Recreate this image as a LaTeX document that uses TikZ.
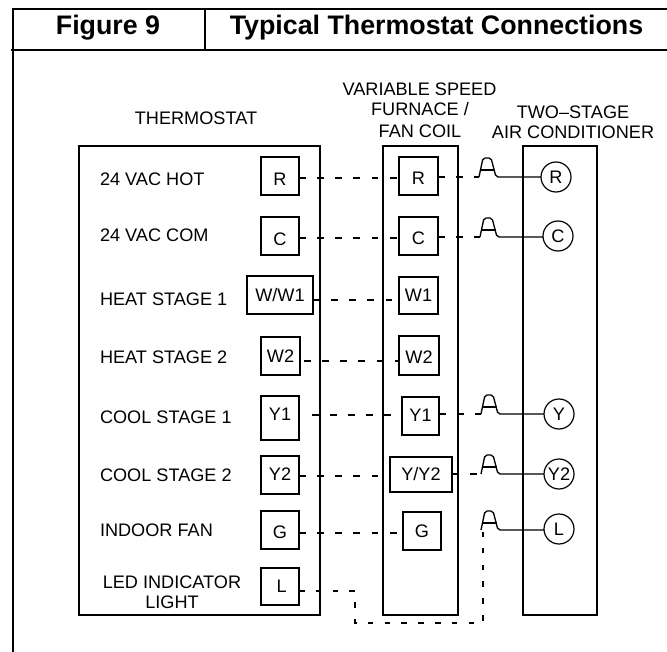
\documentclass[tikz,border=0pt]{standalone}
\usepackage{fontspec}
\setmainfont{Liberation Sans}
\usetikzlibrary{calc}
\tikzset{
  x=0.75pt,y=-0.75pt,
  every node/.style={font=\fontsize{13.6}{15}\selectfont,inner sep=0pt,outer sep=0pt},
  frameline/.style={line width=1.5pt,black},
  panel/.style={line width=1.1pt,black},
  bx/.style 2 args={draw,line width=1.0pt,minimum width=#1*0.75pt,minimum height=#2*0.75pt,text height=9.7pt,text depth=0pt},
  term/.style={draw,circle,line width=0.9pt,minimum size=22.5pt,text height=9.7pt,text depth=0pt},
  wire/.style={line width=0.9pt,dash pattern=on 5.2pt off 8.4pt},
  lwire/.style={line width=0.9pt,dash pattern=on 4.2pt off 8.4pt},
  hopline/.style={line width=1pt},
  heading/.style={font=\fontsize{20.1}{22}\selectfont\bfseries,anchor=base},
  rowlabel/.style={anchor=west},
}
\newcommand{\hopsym}[2]{%
  \draw[hopline,rounded corners=1.5pt] (#1) -- ++(4,-19) -- ++(8,0) -- ++(5,19) -- (#2.west |- #1);
  \draw[hopline] ($(#1)+(1.5,-7)$) -- ($(#1)+(15.5,-7)$);
}
\begin{document}
\begin{tikzpicture}
\useasboundingbox (0,0) rectangle (667,652);
% frame
\draw[frameline] (13,652) -- (13,9) -- (667,9);
\draw[frameline] (11,50) -- (667,50);
\draw[line width=1.1pt] (205,9) -- (205,50);
\node[heading] (figno) at (108,35) {Figure 9};
\node[heading] (title) at (436.5,35) {Typical Thermostat Connections};
% headers
\node (hthermo) at (196,118) {THERMOSTAT};
\node (hfurn1) at (419.5,89) {VARIABLE SPEED};
\node (hfurn2) at (420,109) {FURNACE /};
\node (hfurn3) at (420,131) {FAN COIL};
\node (hac1) at (573,112) {TWO–STAGE};
\node (hac2) at (573,132) {AIR CONDITIONER};
% panels
\draw[panel] (79,146) rectangle (320,615);
\draw[panel] (383,146) rectangle (458,615);
\draw[panel] (523,146) rectangle (597,615);
% row labels
\node[rowlabel] (l1) at (100,179) {24 VAC HOT};
\node[rowlabel] (l2) at (100,235) {24 VAC COM};
\node[rowlabel] (l3) at (100,299) {HEAT STAGE 1};
\node[rowlabel] (l4) at (100,357) {HEAT STAGE 2};
\node[rowlabel] (l5) at (100,417) {COOL STAGE 1};
\node[rowlabel] (l6) at (100,475) {COOL STAGE 2};
\node[rowlabel] (l7) at (100,530) {INDOOR FAN};
\node (l8a) at (172,582) {LED INDICATOR};
\node (l8b) at (172,602) {LIGHT};
% thermostat terminals
\node[bx={38}{38}] (tR) at (280,176) {\raisebox{-2.2pt}{R}};
\node[bx={38}{38}] (tC) at (280,236) {\raisebox{-2.2pt}{C}};
\node[bx={66}{38}] (tW) at (280,295) {W/W1};
\node[bx={39}{38}] (tW2) at (280.5,356) {W2};
\node[bx={38}{44}] (tY) at (280,418) {\raisebox{3pt}{Y1}};
\node[bx={38}{38}] (tY2) at (280,475) {\raisebox{0.75pt}{Y2}};
\node[bx={38}{38}] (tG) at (280,530) {\raisebox{-1.5pt}{G}};
\node[bx={38}{37}] (tL) at (280,586.5) {\hspace*{2.5pt}L};
% furnace terminals
\node[bx={39}{38}] (fR) at (418.5,176) {\raisebox{-1.5pt}{R}};
\node[bx={39}{38}] (fC) at (418.5,236) {\raisebox{-1.5pt}{C}};
\node[bx={39}{37}] (fW) at (418.5,295.5) {W1};
\node[bx={40}{39}] (fW2) at (419,355.5) {\raisebox{-1pt}{W2}};
\node[bx={37}{38}] (fY) at (420.5,416) {\raisebox{0.75pt}{Y1}};
\node[bx={62}{35}] (fY2) at (421,474.5) {Y/Y2};
\node[bx={38}{38}] (fG) at (422,531) {G};
% AC terminals
\node[term] (cR) at (556,177) {R};
\node[term] (cC) at (558,236) {C};
\node[term] (cY) at (559,414) {Y};
\node[term] (cY2) at (559,474) {Y2};
\node[term] (cL) at (559,529) {L};
% hop points
\coordinate (hR) at (479,177);
\coordinate (hC) at (480,237);
\coordinate (hY) at (481,414);
\coordinate (hY2) at (481,474);
\coordinate (hL) at (481,530);
\coordinate (lA) at (355,591);
\coordinate (lB) at (355,623);
\coordinate (lC) at (483,623);
\coordinate (lD) at (483,532);
% dashed wires, thermostat to furnace
\draw[wire] (tR.east |- 0,178) -- (fR.west |- 0,178);
\draw[wire] (tC.east |- 0,238) -- (fC.west |- 0,238);
\draw[wire] (tW.east |- 0,300) -- (fW.west |- 0,300);
\draw[wire] ([xshift=3pt]tW2.east |- 0,361) -- (fW2.west |- 0,361);
\draw[wire] ([xshift=9.5pt]tY.east |- 0,415) -- (fY.west |- 0,415);
\draw[wire] (tY2.east |- 0,476) -- (fY2.west |- 0,476);
\draw[wire] (tG.east |- 0,533) -- (fG.west |- 0,533);
% dashed wires, furnace to hops
\draw[wire] (fR.east |- hR) -- (hR);
\draw[wire] (fC.east |- hC) -- (hC);
\draw[wire] (fY.east |- hY) -- (hY);
\draw[wire] (fY2.east |- hY2) -- (hY2);
% LED wire
\draw[lwire] (tL.east |- lA) -- (lA) -- (lB) -- (lC) -- (lD);
% hops
\hopsym{hR}{cR}
\hopsym{hC}{cC}
\hopsym{hY}{cY}
\hopsym{hY2}{cY2}
\hopsym{hL}{cL}
\end{tikzpicture}
\end{document}
